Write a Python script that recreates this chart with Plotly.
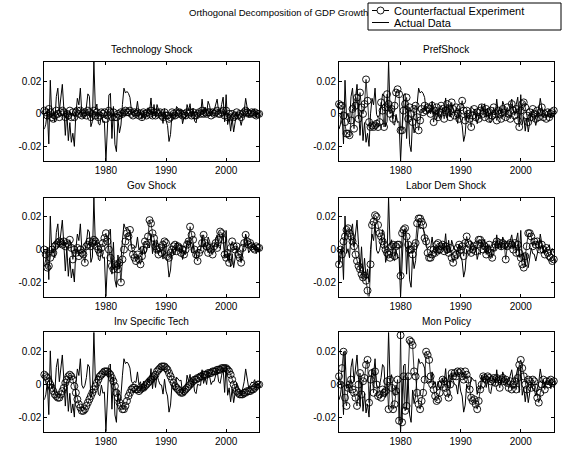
import numpy as np
import plotly.graph_objects as go

# Quarterly sample 1970Q1-2005Q4, plotted one quarter early (1970Q1 -> 1969.75)
first_date = 1969.75
n_quarters = 144
dates = first_date + 0.25 * np.arange(n_quarters)

# Demeaned quarterly GDP growth (Q1..Q4 per row, 1970-2005)
actual_data = [
    -0.0093, -0.0063, 0.0015, -0.0183,
    0.0205, -0.0023, 0.0005, -0.0050,
    0.0105, 0.0157, 0.0017, 0.0092,
    0.0180, 0.0032, -0.0131, 0.0017,
    -0.0163, -0.0053, -0.0173, -0.0118,
    -0.0198, 0.0000, 0.0095, 0.0055,
    0.0157, -0.0003, -0.0023, -0.0005,
    0.0042, 0.0122, 0.0107, -0.0078,
    -0.0046, 0.0318, 0.0025, 0.0060,
    -0.0060, -0.0068, -0.0003, -0.0053,
    -0.0046, -0.0287, -0.0090, 0.0115,
    0.0125, -0.0150, 0.0045, -0.0185,
    -0.0230, -0.0033, -0.0116, -0.0068,
    0.0057, 0.0157, 0.0127, 0.0137,
    0.0125, 0.0100, 0.0020, 0.0005,
    0.0020, 0.0012, 0.0077, -0.0003,
    0.0017, -0.0033, 0.0020, -0.0028,
    -0.0008, 0.0037, 0.0010, 0.0097,
    -0.0025, 0.0057, -0.0018, 0.0057,
    0.0025, 0.0000, -0.0003, -0.0058,
    0.0032, -0.0040, -0.0070, -0.0168,
    -0.0125, 0.0002, -0.0028, -0.0030,
    0.0045, 0.0032, 0.0022, 0.0027,
    -0.0060, -0.0020, -0.0030, 0.0057,
    0.0020, 0.0062, -0.0018, 0.0035,
    -0.0043, -0.0055, 0.0002, -0.0003,
    -0.0005, 0.0090, 0.0007, 0.0042,
    0.0000, 0.0077, 0.0050, 0.0000,
    0.0020, 0.0020, 0.0055, 0.0090,
    0.0017, 0.0007, 0.0057, 0.0102,
    -0.0048, 0.0117, -0.0065, -0.0020,
    -0.0105, -0.0025, -0.0110, -0.0050,
    0.0010, -0.0025, -0.0028, -0.0070,
    -0.0025, 0.0017, 0.0095, 0.0042,
    -0.0020, -0.0003, 0.0015, 0.0010,
    0.0030, -0.0025, 0.0007, -0.0020,
]

# Counterfactual growth paths, one orthogonal shock at a time
technology_shock = [
    0.002, 0.001, -0.001, 0.003,
    0.001, -0.002, -0.003, -0.001,
    0.002, 0.000, -0.002, 0.001,
    0.002, 0.001, -0.002, 0.000,
    -0.001, 0.002, -0.002, 0.001,
    -0.002, 0.001, 0.002, 0.000,
    0.002, -0.001, 0.000, 0.001,
    -0.001, 0.002, 0.001, -0.002,
    0.000, 0.002, -0.001, 0.001,
    -0.002, -0.001, 0.001, 0.000,
    0.001, -0.003, -0.001, 0.002,
    0.001, -0.002, 0.001, -0.002,
    -0.002, 0.000, -0.001, 0.001,
    0.000, 0.001, 0.002, 0.001,
    0.001, 0.002, 0.000, -0.001,
    0.001, 0.000, 0.001, -0.001,
    0.000, -0.002, 0.001, 0.000,
    -0.001, 0.001, 0.000, 0.002,
    -0.001, 0.001, -0.001, 0.001,
    0.000, 0.001, -0.001, -0.002,
    0.001, -0.001, -0.001, -0.003,
    -0.002, 0.001, 0.000, -0.001,
    0.001, 0.000, 0.001, 0.000,
    -0.001, 0.000, -0.001, 0.001,
    0.000, 0.001, -0.001, 0.001,
    -0.001, -0.001, 0.000, 0.001,
    0.000, 0.002, 0.000, 0.001,
    0.000, 0.001, 0.001, -0.001,
    0.001, 0.000, 0.001, 0.002,
    0.000, 0.000, 0.001, 0.002,
    -0.001, 0.002, -0.002, 0.000,
    -0.002, 0.000, -0.002, -0.001,
    0.001, -0.001, 0.000, -0.002,
    0.000, 0.001, 0.002, 0.001,
    0.000, 0.000, 0.001, 0.000,
    0.001, -0.001, 0.000, 0.000,
]

pref_shock = [
    0.006, 0.005, 0.005, -0.001,
    -0.005, -0.012, -0.012, -0.013,
    -0.004, 0.003, -0.009, 0.005,
    0.010, -0.003, 0.013, 0.004,
    0.000, 0.006, 0.021, 0.008,
    -0.005, -0.008, -0.007, -0.008,
    -0.007, -0.006, -0.008, -0.005,
    0.007, 0.002, -0.008, 0.004,
    0.012, 0.006, 0.000, 0.003,
    -0.003, 0.005, 0.013, 0.015,
    0.012, -0.010, -0.010, 0.002,
    0.006, 0.010, -0.003, 0.004,
    0.000, -0.005, 0.003, 0.005,
    -0.002, -0.010, -0.004, 0.003,
    0.001, 0.005, 0.002, 0.004,
    0.003, 0.000, 0.005, -0.005,
    0.002, 0.004, -0.002, 0.001,
    0.005, 0.003, -0.003, 0.002,
    0.006, 0.001, -0.002, 0.007,
    0.003, -0.001, 0.004, 0.000,
    -0.003, 0.004, 0.008, 0.002,
    -0.004, 0.002, 0.000, -0.003,
    -0.008, -0.001, 0.003, -0.002,
    0.001, -0.003, 0.002, 0.004,
    0.000, -0.002, 0.003, 0.001,
    -0.003, 0.002, -0.001, 0.004,
    0.000, -0.004, 0.002, 0.000,
    -0.003, 0.003, 0.001, -0.002,
    0.004, 0.000, -0.003, 0.006,
    0.002, -0.001, 0.003, -0.004,
    -0.008, 0.002, 0.006, 0.007,
    0.004, -0.001, -0.005, 0.001,
    -0.002, 0.003, 0.000, -0.003,
    0.002, -0.002, 0.001, 0.004,
    -0.002, 0.000, -0.003, 0.001,
    -0.002, 0.000, 0.001, 0.002,
]

gov_shock = [
    0.000, -0.003, -0.011, -0.010,
    -0.005, 0.000, -0.002, 0.002,
    0.003, 0.004, 0.005, 0.004,
    0.003, 0.005, 0.002, 0.004,
    0.003, 0.006, 0.001, -0.006,
    0.000, -0.002, 0.001, -0.004,
    0.000, -0.002, -0.003, -0.008,
    0.002, 0.003, 0.005, 0.002,
    0.004, 0.006, 0.005, 0.002,
    0.000, -0.002, 0.001, 0.004,
    0.007, 0.010, 0.005, 0.000,
    -0.005, -0.010, -0.012, -0.009,
    -0.010, -0.012, -0.008, -0.020,
    -0.006, 0.000, 0.005, 0.010,
    0.008, 0.012, 0.001, -0.003,
    -0.005, -0.007, -0.003, -0.006,
    -0.009, -0.004, 0.000, 0.005,
    0.003, 0.008, 0.018, 0.016,
    0.010, 0.007, 0.002, 0.000,
    -0.003, 0.001, -0.002, 0.003,
    0.005, 0.004, -0.004, -0.005,
    -0.002, 0.000, 0.002, 0.003,
    -0.001, 0.002, 0.001, -0.002,
    0.000, -0.003, 0.000, 0.003,
    0.005, 0.014, 0.009, 0.006,
    0.000, -0.003, -0.007, -0.002,
    0.000, 0.004, 0.009, 0.004,
    0.002, -0.002, 0.001, 0.000,
    -0.003, 0.002, 0.004, 0.001,
    0.006, 0.011, 0.010, 0.006,
    -0.003, -0.005, -0.002, -0.008,
    0.001, 0.005, 0.002, 0.000,
    0.002, -0.003, -0.005, -0.008,
    0.001, 0.004, 0.009, 0.005,
    0.003, 0.004, 0.002, 0.001,
    0.000, 0.002, 0.001, 0.001,
]

labor_dem_shock = [
    -0.009, 0.000, -0.003, 0.005,
    0.008, 0.012, 0.013, 0.010,
    0.008, 0.005, 0.002, -0.003,
    -0.007, -0.010, -0.012, -0.015,
    -0.017, -0.016, -0.019, -0.025,
    -0.033, -0.009, 0.015, 0.017,
    0.021, 0.020, 0.015, 0.010,
    0.008, 0.005, 0.003, 0.000,
    -0.002, -0.003, -0.005, 0.002,
    0.003, -0.004, 0.002, 0.003,
    0.003, -0.016, 0.010, 0.012,
    0.013, 0.008, 0.003, 0.000,
    0.000, -0.003, 0.002, 0.004,
    0.016, 0.019, 0.019, 0.017,
    0.015, 0.007, 0.005, -0.002,
    -0.005, -0.005, -0.003, 0.000,
    -0.002, 0.003, 0.004, 0.000,
    0.002, 0.003, -0.001, 0.002,
    0.000, -0.002, 0.001, -0.005,
    -0.008, -0.004, -0.003, 0.001,
    0.003, 0.000, 0.002, -0.004,
    0.004, 0.008, 0.004, 0.003,
    -0.002, 0.000, 0.002, -0.001,
    0.003, 0.006, 0.006, 0.004,
    0.000, 0.002, -0.003, 0.000,
    0.003, -0.002, -0.005, 0.001,
    0.003, 0.005, 0.003, 0.004,
    0.002, 0.004, 0.003, -0.006,
    0.002, 0.003, 0.004, 0.003,
    0.000, 0.004, -0.002, 0.003,
    -0.002, -0.005, -0.009, -0.011,
    -0.004, 0.002, 0.010, 0.010,
    0.008, 0.002, 0.005, 0.003,
    0.005, 0.003, 0.000, 0.003,
    0.000, -0.003, 0.001, -0.002,
    -0.004, -0.005, -0.007, -0.006,
]

inv_specific_tech = [
    0.006, 0.005, 0.004, 0.002,
    0.000, -0.002, -0.004, -0.006,
    -0.007, -0.008, -0.008, -0.006,
    -0.004, -0.002, 0.001, 0.003,
    0.005, 0.006, 0.005, 0.003,
    -0.001, -0.005, -0.009, -0.012,
    -0.014, -0.016, -0.016, -0.015,
    -0.013, -0.011, -0.009, -0.007,
    -0.005, -0.003, -0.001, 0.001,
    0.003, 0.005, 0.006, 0.007,
    0.008, 0.008, 0.008, 0.007,
    0.006, 0.004, 0.002, -0.001,
    -0.005, -0.008, -0.011, -0.013,
    -0.015, -0.015, -0.013, -0.010,
    -0.007, -0.005, -0.003, -0.002,
    -0.002, -0.003, -0.003, -0.004,
    -0.003, -0.002, -0.002, -0.001,
    0.000, 0.001, 0.002, 0.003,
    0.004, 0.005, 0.006, 0.008,
    0.009, 0.010, 0.011, 0.011,
    0.011, 0.010, 0.009, 0.007,
    0.005, 0.003, 0.001, -0.001,
    -0.002, -0.003, -0.004, -0.005,
    -0.005, -0.004, -0.003, -0.002,
    -0.001, 0.000, 0.001, 0.002,
    0.003, 0.003, 0.004, 0.004,
    0.005, 0.005, 0.006, 0.006,
    0.006, 0.007, 0.007, 0.007,
    0.008, 0.008, 0.008, 0.009,
    0.009, 0.009, 0.010, 0.010,
    0.010, 0.010, 0.009, 0.008,
    0.006, 0.003, 0.000, -0.002,
    -0.004, -0.005, -0.006, -0.006,
    -0.006, -0.005, -0.005, -0.004,
    -0.004, -0.004, -0.003, -0.003,
    -0.002, -0.001, 0.000, 0.000,
]

mon_policy = [
    0.005, 0.000, 0.010, 0.020,
    -0.008, -0.013, -0.002, 0.000,
    0.003, -0.003, -0.005, -0.008,
    -0.013, 0.000, 0.007, -0.006,
    0.002, 0.004, 0.012, 0.015,
    -0.011, 0.003, 0.007, -0.005,
    0.008, 0.000, -0.007, -0.006,
    -0.008, -0.003, -0.005, -0.004,
    0.002, -0.015, 0.003, -0.002,
    -0.015, -0.012, -0.004, 0.003,
    -0.022, 0.030, -0.023, 0.005,
    -0.016, -0.013, 0.005, 0.027,
    0.026, 0.024, 0.008, 0.005,
    -0.005, -0.012, -0.015, -0.010,
    -0.005, 0.003, 0.020, 0.018,
    0.015, 0.005, 0.000, -0.003,
    -0.007, -0.010, -0.009, -0.005,
    0.000, 0.003, 0.002, -0.002,
    -0.005, -0.008, 0.000, 0.007,
    0.005, 0.007, 0.005, 0.008,
    0.007, 0.008, 0.005, 0.003,
    0.008, 0.006, 0.003, -0.003,
    -0.008, -0.010, -0.009, -0.012,
    -0.015, -0.010, -0.003, 0.000,
    0.005, 0.004, 0.003, 0.005,
    0.004, 0.002, 0.003, 0.004,
    0.001, 0.004, 0.003, -0.002,
    0.003, 0.004, 0.002, 0.003,
    0.001, -0.002, 0.002, -0.003,
    0.000, 0.002, -0.003, 0.004,
    0.012, 0.015, 0.010, 0.005,
    0.000, -0.003, 0.003, 0.002,
    -0.002, 0.003, 0.002, -0.002,
    -0.008, -0.011, -0.005, 0.000,
    0.003, -0.003, 0.002, 0.000,
    0.002, 0.003, 0.001, 0.002,
]

panel_titles = ["Technology Shock", "PrefShock", "Gov Shock",
                "Labor Dem Shock", "Inv Specific Tech", "Mon Policy"]
panel_series = [technology_shock, pref_shock, gov_shock,
                labor_dem_shock, inv_specific_tech, mon_policy]
x_tick_values = [1980, 1990, 2000]
y_tick_values = [-0.02, 0, 0.02]
y_tick_labels = ["-0.02", "0", "0.02"]
main_title = "Orthogonal Decomposition of GDP Growth"
legend_labels = ["Counterfactual Experiment", "Actual Data"]

for s in panel_series + [actual_data]:
    assert len(s) == n_quarters

# ---- page geometry (pixels) ----
W, H = 567, 451
FONT = "Liberation Sans, Arial, Helvetica, sans-serif"


def px(x):
    return x / W


def py(y):
    return 1 - y / H


col_x = [(44.3, 259.2), (339.0, 553.8)]
row_y = [(61.7, 161.0), (197.5, 296.6), (332.3, 431.7)]
title_y = [50.0, 186.0, 321.0]

y_range = [min(actual_data), max(actual_data)]
x_range = [dates[0], dates[-1]]

fig = go.Figure()
layout_axes = {}
annotations = []

for k, (name, series) in enumerate(zip(panel_titles, panel_series)):
    r, c = divmod(k, 2)
    idx = "" if k == 0 else str(k + 1)
    xa, ya = "x" + idx, "y" + idx

    fig.add_trace(go.Scatter(
        x=dates, y=series, mode="lines+markers", xaxis=xa, yaxis=ya,
        line=dict(color="black", width=0.8),
        marker=dict(symbol="circle-open", size=7, color="black",
                    line=dict(width=0.9, color="black")),
        cliponaxis=False, showlegend=False, hoverinfo="skip"))
    fig.add_trace(go.Scatter(
        x=dates, y=actual_data, mode="lines", xaxis=xa, yaxis=ya,
        line=dict(color="black", width=1.0),
        showlegend=False, hoverinfo="skip"))

    common = dict(showline=True, linecolor="black", linewidth=1,
                  mirror="ticks", ticks="inside", ticklen=3,
                  tickcolor="black", tickwidth=1, showgrid=False,
                  zeroline=False,
                  tickfont=dict(family=FONT, size=10, color="black"))
    x0, x1 = col_x[c]
    yt, yb = row_y[r]
    layout_axes["xaxis" + idx] = dict(
        domain=[px(x0), px(x1)], range=x_range, anchor=ya,
        tickvals=x_tick_values, **common)
    layout_axes["yaxis" + idx] = dict(
        domain=[py(yb), py(yt)], range=y_range, anchor=xa,
        tickvals=y_tick_values, ticktext=y_tick_labels, **common)

    annotations.append(dict(
        text=name, xref="paper", yref="paper",
        x=px((x0 + x1) / 2), y=py(title_y[r]),
        xanchor="center", yanchor="middle", showarrow=False,
        font=dict(family=FONT, size=10, color="black")))

# Figure title
annotations.append(dict(
    text=main_title, xref="paper", yref="paper",
    x=px(370), y=py(13), xanchor="right", yanchor="middle",
    showarrow=False, font=dict(family=FONT, size=9.5, color="black")))

# Legend box, drawn with shapes so its size follows the figure
lg_x0, lg_x1, lg_y0, lg_y1 = 368, 561, 3, 30
row_centers = [10.5, 22.5]
shapes = [dict(type="rect", xref="paper", yref="paper",
               x0=px(lg_x0), x1=px(lg_x1), y0=py(lg_y1), y1=py(lg_y0),
               line=dict(color="black", width=1), fillcolor="white",
               layer="above")]
for i, (label, yc) in enumerate(zip(legend_labels, row_centers)):
    shapes.append(dict(type="line", xref="paper", yref="paper",
                       x0=px(372), x1=px(389), y0=py(yc), y1=py(yc),
                       line=dict(color="black", width=1), layer="above"))
    if i == 0:
        shapes.append(dict(type="circle", xref="paper", yref="paper",
                           x0=px(377), x1=px(384), y0=py(yc + 3.5),
                           y1=py(yc - 3.5), fillcolor="white",
                           line=dict(color="black", width=0.9),
                           layer="above"))
    annotations.append(dict(
        text=label, xref="paper", yref="paper", x=px(392), y=py(yc),
        xanchor="left", yanchor="middle", showarrow=False,
        font=dict(family=FONT, size=11, color="black")))

fig.update_layout(
    width=W, height=H, margin=dict(l=0, r=0, t=0, b=0),
    paper_bgcolor="white", plot_bgcolor="white",
    showlegend=False, annotations=annotations, shapes=shapes,
    **layout_axes)

fig.write_html("out.html")
